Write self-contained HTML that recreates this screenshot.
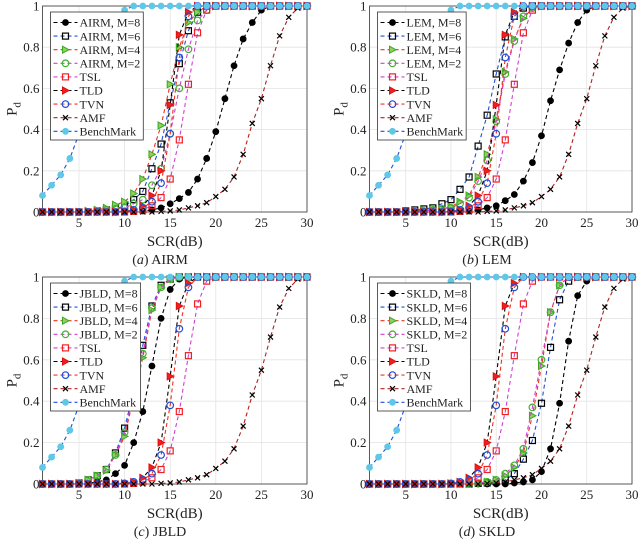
<!DOCTYPE html>
<html><head><meta charset="utf-8"><style>
body{margin:0;background:#fff}
svg text{font-family:"Liberation Serif",serif;fill:#222}
</style></head><body>
<svg id="fig" width="640" height="539" viewBox="0 0 640 539" xmlns="http://www.w3.org/2000/svg"></svg>
<script>
const xs=[1,2,3,4,5,6,7,8,9,10,11,12,13,14,15,16,17,18,19,20,21,22,23,24,25,26,27,28,29,30];
const xTicks=[5,10,15,20,25,30];
const yTicks=[0,0.2,0.4,0.6,0.8,1];
const yTickLabels=["0","0.2","0.4","0.6","0.8","1"];
const bench=[0.08,0.13,0.18,0.26,0.38,0.52,0.68,0.82,0.92,0.98,1,1,1,1,1,1,1,1,1,1,1,1,1,1,1,1,1,1,1,1];
const amf=[0,0,0,0,0,0,0,0,0,0,0,0,0,0.003,0.005,0.01,0.02,0.03,0.045,0.075,0.11,0.17,0.28,0.43,0.55,0.71,0.855,0.945,0.99,1];
const tsl=[0,0,0,0,0,0,0,0,0,0,0.003,0.01,0.03,0.07,0.16,0.35,0.62,0.87,0.98,1,1,1,1,1,1,1,1,1,1,1];
const tld=[0,0,0,0,0,0,0,0,0,0.003,0.01,0.03,0.08,0.2,0.52,0.86,0.97,1,1,1,1,1,1,1,1,1,1,1,1,1];
const tvn=[0,0,0,0,0,0,0,0,0,0.003,0.01,0.02,0.05,0.14,0.38,0.75,0.95,1,1,1,1,1,1,1,1,1,1,1,1,1];
const airm8=[0,0,0,0,0,0,0,0,0,0,0.003,0.005,0.01,0.02,0.04,0.065,0.095,0.16,0.26,0.39,0.55,0.71,0.84,0.92,0.98,1,1,1,1,1];
const airm6=[0,0,0,0,0,0,0.005,0.01,0.015,0.03,0.06,0.1,0.21,0.33,0.53,0.72,0.88,0.97,1,1,1,1,1,1,1,1,1,1,1,1];
const airm4=[0,0,0,0,0,0.005,0.01,0.02,0.035,0.05,0.09,0.16,0.28,0.42,0.62,0.8,0.92,0.97,1,1,1,1,1,1,1,1,1,1,1,1];
const airm2=[0,0,0,0,0,0,0.005,0.01,0.015,0.02,0.04,0.06,0.13,0.21,0.38,0.6,0.79,0.93,0.98,1,1,1,1,1,1,1,1,1,1,1];
const lem8=[0,0,0,0,0,0,0,0,0,0,0.003,0.005,0.01,0.02,0.03,0.055,0.085,0.15,0.24,0.37,0.54,0.69,0.82,0.92,0.98,1,1,1,1,1];
const lem6=[0,0,0,0,0.005,0.01,0.015,0.02,0.04,0.06,0.11,0.17,0.32,0.47,0.67,0.85,0.95,0.99,1,1,1,1,1,1,1,1,1,1,1,1];
const lem4=[0,0,0,0,0,0.005,0.01,0.01,0.015,0.025,0.05,0.08,0.17,0.28,0.45,0.68,0.84,0.94,0.99,1,1,1,1,1,1,1,1,1,1,1];
const lem2=[0,0,0,0,0,0,0.005,0.01,0.015,0.02,0.04,0.07,0.15,0.25,0.44,0.67,0.83,0.95,0.99,1,1,1,1,1,1,1,1,1,1,1];
const jb8=[0,0,0,0,0,0.003,0.01,0.02,0.05,0.09,0.2,0.35,0.57,0.8,0.94,0.99,1,1,1,1,1,1,1,1,1,1,1,1,1,1];
const jb6=[0,0,0,0,0.005,0.02,0.04,0.07,0.15,0.27,0.45,0.67,0.86,0.96,0.99,1,1,1,1,1,1,1,1,1,1,1,1,1,1,1];
const jb4=[0,0,0,0,0.005,0.02,0.04,0.065,0.14,0.23,0.42,0.61,0.84,0.95,0.99,1,1,1,1,1,1,1,1,1,1,1,1,1,1,1];
const jb2=[0,0,0,0,0.005,0.02,0.04,0.07,0.14,0.25,0.44,0.63,0.85,0.95,0.99,1,1,1,1,1,1,1,1,1,1,1,1,1,1,1];
const sk8=[0,0,0,0,0,0,0,0,0,0,0,0,0,0,0,0,0.005,0.01,0.02,0.06,0.17,0.39,0.69,0.91,0.98,1,1,1,1,1];
const sk6=[0,0,0,0,0,0,0,0,0,0,0,0,0.003,0.005,0.01,0.02,0.05,0.12,0.21,0.39,0.66,0.89,0.98,1,1,1,1,1,1,1];
const sk4=[0,0,0,0,0,0,0,0,0,0,0,0,0.005,0.01,0.02,0.04,0.08,0.15,0.33,0.57,0.83,0.96,1,1,1,1,1,1,1,1];
const sk2=[0,0,0,0,0,0,0,0,0,0,0,0,0.005,0.01,0.02,0.05,0.09,0.17,0.37,0.6,0.83,0.96,1,1,1,1,1,1,1,1];
const methods=["AIRM","LEM","JBLD","SKLD"];
const captions=["AIRM","LEM","JBLD","SKLD"];
const captionLetters=["a","b","c","d"];
const panelSeries=[[airm8,airm6,airm4,airm2],[lem8,lem6,lem4,lem2],[jb8,jb6,jb4,jb2],[sk8,sk6,sk4,sk2]];
const baseNames=["TSL","TLD","TVN","AMF","BenchMark"];

const styles=[
 {line:"#000",m:"circle",fill:"#000",stroke:"#000"},
 {line:"#1f4fd8",m:"square",fill:"none",stroke:"#000"},
 {line:"#f03020",m:"tri",fill:"#8fd060",stroke:"#3aa820"},
 {line:"#d040d0",m:"circle",fill:"none",stroke:"#40b030",open:true},
 {line:"#d040d0",m:"square",fill:"none",stroke:"#f02020"},
 {line:"#000",m:"tri",fill:"#f02020",stroke:"#e01010"},
 {line:"#f03020",m:"circle",fill:"none",stroke:"#1f4fd8",open:true},
 {line:"#b02020",m:"x",fill:"none",stroke:"#000"},
 {line:"#1f4fd8",m:"circle",fill:"#5ec8e6",stroke:"#5ec8e6"}
];
const panels=[
 {x1:42.5,x30:307,yt:6,yb:212,legW:88,cx:160},
 {x1:369.5,x30:632,yt:6,yb:212,legW:88,cx:487},
 {x1:42.5,x30:307,yt:277,yb:484,legW:88,cx:160},
 {x1:369.5,x30:632,yt:277,yb:484,legW:93,cx:487}
];
const NS="http://www.w3.org/2000/svg";
const svg=document.getElementById('fig');
function mk(t,a,p){const e=document.createElementNS(NS,t);for(const k in a)e.setAttribute(k,a[k]);(p||svg).appendChild(e);return e;}
function marker(g,m,cx,cy,st){
 let e;
 if(m==="circle"){e=mk('circle',{cx:cx,cy:cy,r:st.open?3.3:2.8,fill:st.fill,stroke:st.stroke,'stroke-width':1.2},g);}
 else if(m==="square"){e=mk('rect',{x:cx-3,y:cy-3,width:6,height:6,fill:st.fill,stroke:st.stroke,'stroke-width':1.2},g);}
 else if(m==="tri"){e=mk('polygon',{points:`${cx-3},${cy-3.5} ${cx+3.5},${cy} ${cx-3},${cy+3.5}`,fill:st.fill,stroke:st.stroke,'stroke-width':1},g);}
 else {e=mk('path',{d:`M${cx-2.5},${cy-2.5}L${cx+2.5},${cy+2.5}M${cx-2.5},${cy+2.5}L${cx+2.5},${cy-2.5}`,stroke:st.stroke,'stroke-width':1.2},g);}
 
 
}
panels.forEach((P,pi)=>{
 const sx=v=>P.x1+(v-1)*(P.x30-P.x1)/29;
 const sy=v=>P.yb-v*(P.yb-P.yt);
 const g=mk('g',{});
 
 
 const L=sx(1),R=sx(30);
 xTicks.forEach(t=>{const l=mk('line',{x1:sx(t),x2:sx(t),y1:P.yt,y2:P.yb,stroke:'#e4e4e4','stroke-width':0.8},g);
  
  const tx=mk('text',{x:sx(t),y:P.yb+15,'text-anchor':'middle','font-size':13},g);tx.textContent=t;
  });
 yTicks.forEach((t,i)=>{const l=mk('line',{x1:L,x2:R,y1:sy(t),y2:sy(t),stroke:'#e4e4e4','stroke-width':0.8},g);
  
  const tx=mk('text',{x:L-3,y:sy(t)+4.5,'text-anchor':'end','font-size':13},g);tx.textContent=yTickLabels[i];
  });
 const fr=mk('rect',{x:L,y:P.yt,width:R-L,height:P.yb-P.yt,fill:'none',stroke:'#333','stroke-width':0.8},g);
 
 const series=panelSeries[pi].concat([tsl,tld,tvn,amf,bench]);
 series.forEach((arr,si)=>{
  const st=styles[si];
  const pts=xs.map((x,i)=>sx(x).toFixed(1)+','+sy(arr[i]).toFixed(1)).join(' ');
  const pl=mk('polyline',{points:pts,fill:'none',stroke:st.line,'stroke-width':1.1,'stroke-dasharray':'4,3'},g);
  
  xs.forEach((x,i)=>marker(g,st.m,sx(x),sy(arr[i]),st));
 });
 const lx=L+8,ly=P.yt+6;
 const lg=mk('g',{},g);
 
 const box=mk('rect',{x:lx,y:ly,width:P.legW,height:128,fill:'#fff',stroke:'#333','stroke-width':0.8},lg);
 const names=["M=8","M=6","M=4","M=2"].map(m=>methods[pi]+", "+m).concat(baseNames);
 let maxW=0;
 names.forEach((n,i)=>{
  const yy=ly+10.5+i*13.6;
  const st=styles[i];
  const ln=mk('line',{x1:lx+3,x2:lx+27,y1:yy,y2:yy,stroke:st.line,'stroke-width':1.1,'stroke-dasharray':'4,3'},lg);
  
  marker(lg,st.m,lx+15,yy,st);
  const t=mk('text',{x:lx+29,y:yy+4.2,'font-size':12},lg);t.textContent=n;
  
  try{maxW=Math.max(maxW,t.getComputedTextLength());}catch(e){}
 });
 if(maxW>0)box.setAttribute('width',Math.max(P.legW,29+maxW+3));
 const xl=mk('text',{x:(L+R)/2,y:P.yb+34,'text-anchor':'middle','font-size':15},g);xl.textContent='SCR(dB)';
 
 const yl=mk('text',{transform:`translate(${L-26},${(P.yt+P.yb)/2}) rotate(-90)`,'text-anchor':'middle','font-size':15},g);
 yl.innerHTML='P<tspan font-size="11" dy="4">d</tspan>';
 
 const cp=mk('text',{x:P.cx,y:P.yb+52,'text-anchor':'middle','font-size':14},g);
 cp.innerHTML='(<tspan font-style="italic">'+captionLetters[pi]+'</tspan>) '+captions[pi];
 
});
</script>
</body></html>
